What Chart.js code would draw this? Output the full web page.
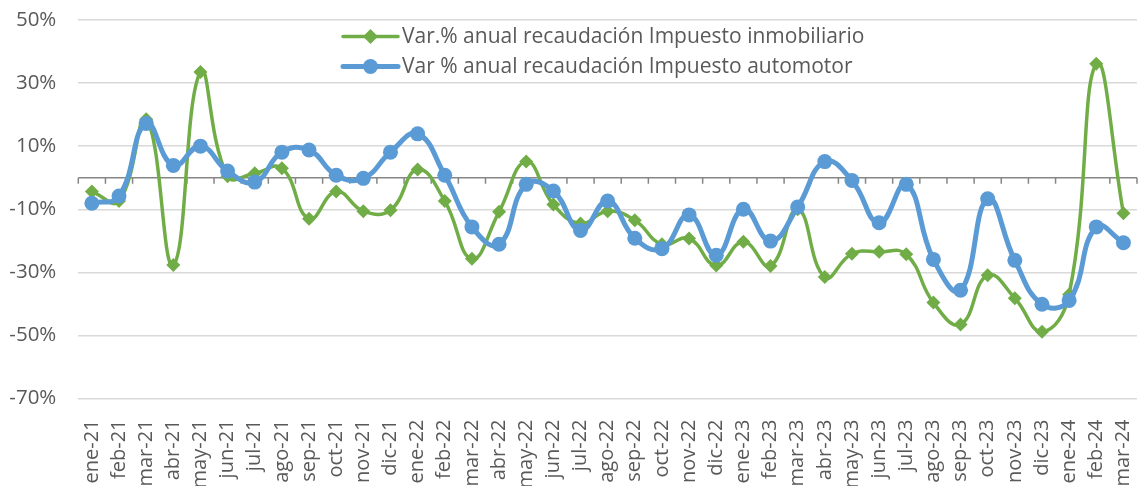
<!DOCTYPE html>
<html><head><meta charset="utf-8">
<script src="https://cdn.jsdelivr.net/npm/chart.js@4.4.1/dist/chart.umd.min.js"></script>
<style>html,body{margin:0;padding:0;background:#fff}</style>
</head><body>
<canvas id="c" width="1138" height="486" style="display:block"></canvas>
<script>
const categories = ["ene-21","feb-21","mar-21","abr-21","may-21","jun-21","jul-21","ago-21","sep-21","oct-21","nov-21","dic-21",
  "ene-22","feb-22","mar-22","abr-22","may-22","jun-22","jul-22","ago-22","sep-22","oct-22","nov-22","dic-22",
  "ene-23","feb-23","mar-23","abr-23","may-23","jun-23","jul-23","ago-23","sep-23","oct-23","nov-23","dic-23",
  "ene-24","feb-24","mar-24"];
const inmobiliario = [-4.4,-7.4,18.5,-27.7,33.5,0.5,1.4,3.0,-13.0,-4.4,-10.6,-10.3,
  2.6,-7.4,-25.7,-10.8,5.1,-8.5,-14.5,-10.6,-13.5,-21.1,-19.3,-27.8,
  -20.3,-28.0,-10.0,-31.5,-24.1,-23.5,-24.3,-39.6,-46.5,-30.9,-38.2,-48.8,
  -37.0,36.1,-11.3];
const automotor = [-8.1,-5.8,17.2,3.9,10.0,2.1,-1.4,8.1,8.8,0.8,-0.2,8.1,
  13.9,0.8,-15.6,-21.1,-2.1,-4.2,-16.7,-7.4,-19.2,-22.5,-11.8,-24.6,
  -10.0,-20.1,-9.3,5.1,-0.9,-14.3,-2.1,-25.9,-35.7,-6.7,-26.2,-40.1,
  -38.9,-15.6,-20.6];
const yTickValues = [50,30,10,-10,-30,-50,-70];
const seriesNames = ["Var.% anual recaudación Impuesto inmobiliario","Var % anual recaudación Impuesto automotor"];

const GREEN = '#70AD47', BLUE = '#5B9BD5', TEXT = '#595959', FONT = "'Open Sans', sans-serif";

const zeroLinePlugin = {
  id: 'zeroLine',
  beforeDatasetsDraw(chart) {
    const {ctx, chartArea, scales} = chart;
    const y0 = scales.y.getPixelForValue(0);
    const xs = scales.x;
    const step = xs.getPixelForValue(1) - xs.getPixelForValue(0);
    ctx.save();
    ctx.strokeStyle = '#868686';
    ctx.lineWidth = 1.5;
    ctx.beginPath();
    ctx.moveTo(chartArea.left, y0);
    ctx.lineTo(chartArea.right, y0);
    for (let i = 0; i <= categories.length; i++) {
      const x = xs.getPixelForValue(0) - step / 2 + i * step;
      ctx.moveTo(x, y0);
      ctx.lineTo(x, y0 + 6);
    }
    ctx.stroke();
    ctx.restore();
  }
};

const legendPlugin = {
  id: 'customLegend',
  afterDatasetsDraw(chart) {
    const {ctx} = chart;
    const x0 = 343, x1 = 398, rows = [36.5, 66.5];
    ctx.save();
    ctx.fillStyle = '#fff';
    ctx.fillRect(335, 22, 540, 58);
    chart.data.datasets.forEach((ds, i) => {
      const y = rows[i];
      ctx.strokeStyle = ds.borderColor;
      ctx.lineWidth = ds.borderWidth;
      ctx.lineCap = 'round';
      ctx.beginPath(); ctx.moveTo(x0, y); ctx.lineTo(x1, y); ctx.stroke();
      ctx.fillStyle = ds.borderColor;
      const cx = (x0 + x1) / 2;
      if (ds.pointStyle === 'rectRot') {
        const r = 7.5;
        ctx.beginPath(); ctx.moveTo(cx, y - r); ctx.lineTo(cx + r, y); ctx.lineTo(cx, y + r); ctx.lineTo(cx - r, y); ctx.closePath(); ctx.fill();
      } else {
        ctx.beginPath(); ctx.arc(cx, y, 7.5, 0, Math.PI * 2); ctx.fill();
      }
      ctx.fillStyle = TEXT;
      ctx.font = "21px " + FONT;
      ctx.textBaseline = 'middle';
      ctx.textAlign = 'left';
      ctx.fillText(seriesNames[i], 402, y + 1);
    });
    ctx.restore();
  }
};

new Chart(document.getElementById('c'), {
  type: 'line',
  data: {
    labels: categories,
    datasets: [
      {label: seriesNames[0], data: inmobiliario, borderColor: GREEN, backgroundColor: GREEN,
       borderWidth: 3.5, pointStyle: 'rectRot', pointRadius: 7, pointBorderWidth: 0,
       tension: 0.45, order: 1},
      {label: seriesNames[1], data: automotor, borderColor: BLUE, backgroundColor: BLUE,
       borderWidth: 5, pointStyle: 'circle', pointRadius: 7.5, pointBorderWidth: 0,
       tension: 0.45, order: 0}
    ]
  },
  options: {
    responsive: false,
    animation: false,
    devicePixelRatio: 1,
    layout: {autoPadding: false, padding: {top: 20, right: 1, left: 0, bottom: 0}},
    plugins: {legend: {display: false}, tooltip: {enabled: false}},
    scales: {
      x: {
        offset: true,
        grid: {display: false, drawTicks: false},
        border: {display: false},
        ticks: {color: TEXT, font: {family: FONT, size: 20}, minRotation: 90, maxRotation: 90, padding: 21, autoSkip: false},
        afterFit(s) { s.height = 87.5; s.paddingLeft = 0; s.paddingRight = 0; }
      },
      y: {
        min: -70, max: 50,
        afterBuildTicks(s) { s.ticks = yTickValues.map(v => ({value: v})); },
        grid: {color: '#D9D9D9', lineWidth: 1.5, drawTicks: false},
        border: {display: false},
        ticks: {color: TEXT, font: {family: FONT, size: 20.5}, padding: 22, callback: v => v + '%'},
        afterFit(s) { s.width = 78.3; s.paddingTop = 0; s.paddingBottom = 0; }
      }
    }
  },
  plugins: [zeroLinePlugin, legendPlugin]
});
</script>
</body></html>
